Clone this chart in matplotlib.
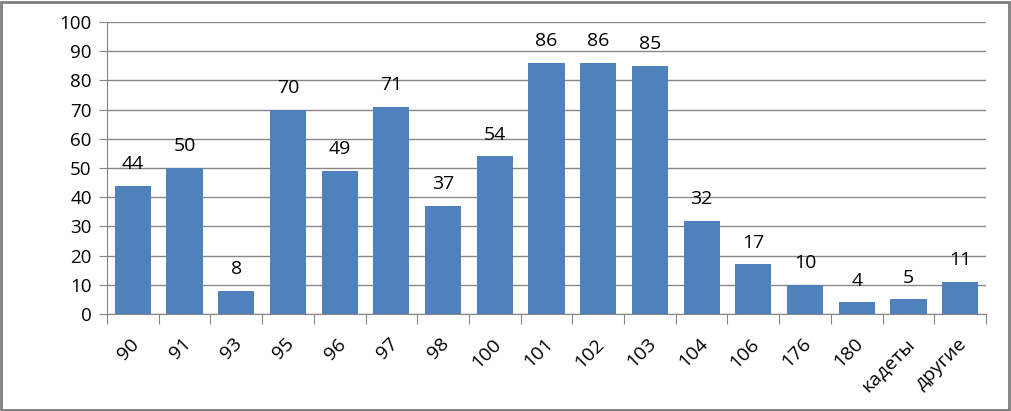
import matplotlib.pyplot as plt
from matplotlib.patches import Rectangle
import matplotlib.transforms as mtransforms

categories = ["90", "91", "93", "95", "96", "97", "98", "100", "101", "102",
              "103", "104", "106", "176", "180", "кадеты", "другие"]
values = [44, 50, 8, 70, 49, 71, 37, 54, 86, 86, 85, 32, 17, 10, 4, 5, 11]
y_ticks = [0, 10, 20, 30, 40, 50, 60, 70, 80, 90, 100]

plt.rcParams['font.family'] = ['Open Sans', 'DejaVu Sans']

fig = plt.figure(figsize=(10.12, 4.11), dpi=100)
ax = fig.add_axes([0.1057, 0.236, 0.8686, 0.7105])

x = list(range(len(categories)))
bars = ax.bar(x, values, width=0.70, color="#4F81BD", zorder=3)
for xi, v in zip(x, values):
    ax.annotate(str(v), (xi, v), xytext=(0, 9), textcoords="offset points",
                ha="center", va="bottom", fontsize=14, color="black")

ax.set_xlim(-0.5, len(categories) - 0.5)
ax.set_ylim(0, 100)
ax.set_yticks(y_ticks)
ax.tick_params(axis="y", length=6, color="#868686", labelsize=13.5, pad=5)
ax.set_xticks([i - 0.5 for i in range(len(categories) + 1)], minor=False)
ax.set_xticklabels([])
ax.tick_params(axis="x", length=7, color="#868686")
ax.set_xticks(x, minor=True)
ax.set_xticklabels(categories, minor=True, rotation=45, ha="right", va="top",
                   rotation_mode="anchor", fontsize=14)
ax.tick_params(axis="x", which="minor", length=0, pad=15)
shift = mtransforms.ScaledTranslation(-3 / 100, 0, fig.dpi_scale_trans)
for lbl in ax.get_xticklabels(minor=True):
    lbl.set_transform(lbl.get_transform() + shift)

ax.yaxis.grid(True, color="#868686", linewidth=1, zorder=0)
for side in ["top", "right"]:
    ax.spines[side].set_visible(False)
for side in ["left", "bottom"]:
    ax.spines[side].set_color("#868686")

fig.patches.append(Rectangle((0.001, 0.002), 0.996, 0.994, transform=fig.transFigure,
                             fill=False, edgecolor="#7f7f7f", linewidth=2))

fig.savefig("out.png", dpi=100)
